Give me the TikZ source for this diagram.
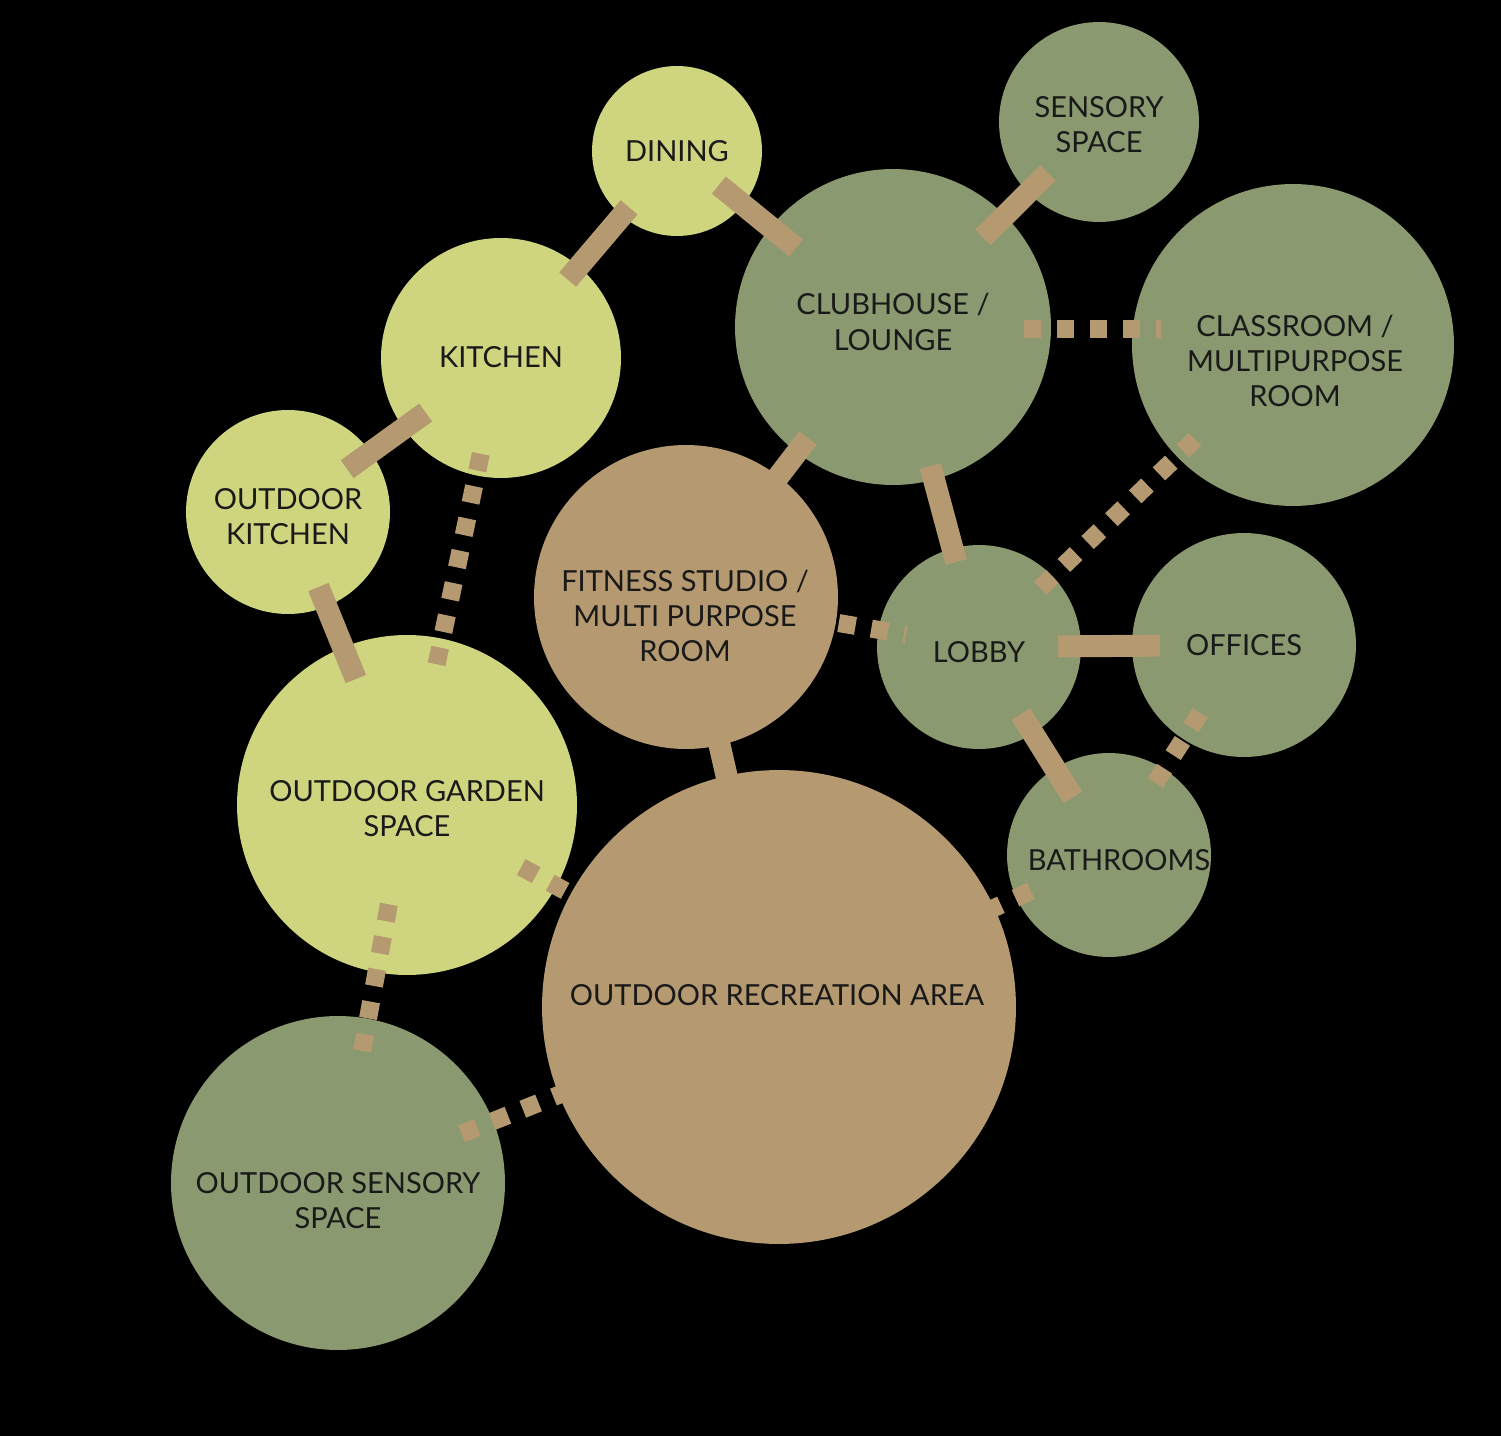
\documentclass[tikz,border=0pt]{standalone}
\usepackage{fontspec}
\setmainfont{Lato}
\usepackage{xcolor}
\usetikzlibrary{arrows}
\definecolor{lightgreen}{RGB}{207,212,127}
\definecolor{sage}{RGB}{138,153,111}
\definecolor{tan}{RGB}{181,153,112}
\tikzset{
  room/.style={circle,inner sep=0pt,draw=none},
  light/.style={room,fill=lightgreen},
  dark/.style={room,fill=sage},
  warm/.style={room,fill=tan},
  txt/.style={align=center,text=black!90,font=\fontsize{16.5}{20}\selectfont},
  bar/.style={draw=tan,line width=0.44cm},
  dots/.style={draw=tan,line width=0.36cm,dash pattern=on 0.34cm off 0.32cm}
}

\begin{document}
\begin{tikzpicture}[x=0.02cm,y=-0.02cm]
\fill[black] (0,0) rectangle (1501,1436);

\node[light, minimum size=3.4cm] (dining) at (677,151) {};
\node[dark, minimum size=4cm] (sensory) at (1099,122) {};
\node[dark, minimum size=6.32cm] (club) at (893,327) {};
\node[dark, minimum size=6.44cm] (classroom) at (1293,345) {};
\node[light, minimum size=4.8cm] (kitchen) at (501,358) {};
\node[light, minimum size=4.08cm] (okitchen) at (288,512) {};
\node[warm, minimum size=6.08cm] (fitness) at (686,597) {};
\node[dark, minimum size=4.08cm] (lobby) at (979,647) {};
\node[dark, minimum size=4.48cm] (offices) at (1244,645) {};
\node[dark, minimum size=4.08cm] (bath) at (1109,855) {};
\node[light, minimum size=6.8cm] (garden) at (407,805) {};
\node[warm, minimum size=9.48cm] (orec) at (779,1007) {};
\node[dark, minimum size=6.68cm] (osensory) at (338,1183) {};

\draw[bar, shorten <=1.08cm, shorten >=2.5cm] (dining.center) -- (club.center);
\draw[bar, shorten <=2.06cm, shorten >=1.48cm] (kitchen.center) -- (dining.center);
\draw[bar, shorten <=1.46cm, shorten >=1.86cm] (okitchen.center) -- (kitchen.center);
\draw[bar, shorten <=1.62cm, shorten >=2.72cm] (okitchen.center) -- (garden.center);
\draw[bar, shorten <=2.54cm, shorten >=1.44cm] (club.center) -- (sensory.center);
\draw[bar, shorten <=2.8cm, shorten >=2.02cm] (club.center) -- (fitness.center);
\draw[bar, shorten <=2.88cm, shorten >=1.76cm] (club.center) -- (lobby.center);
\draw[bar, shorten <=1.58cm, shorten >=1.68cm] (lobby.center) -- (offices.center);
\draw[bar, shorten <=1.58cm, shorten >=1.36cm] (lobby.center) -- (bath.center);
\draw[bar, shorten <=2.6cm, shorten >=3.86cm] (fitness.center) -- (orec.center);

\draw[dots, shorten <=-0.54cm, shorten >=-0.58cm] ([yshift=-0.04cm]club.east) -- ([yshift=-0.04cm]club.east -| classroom.west);
\draw[dots, shorten <=2.72cm, shorten >=1.62cm] (classroom.center) -- (lobby.center);
\draw[dots, shorten <=1.96cm, shorten >=2.76cm] (kitchen.center) -- (garden.center);
\draw[dots, shorten <=2.44cm, shorten >=1.48cm] (fitness.center) -- (lobby.center);
\draw[dots, shorten <=1.62cm, shorten >=1.6cm] (offices.center) -- (bath.center);
\draw[dots, shorten <=2.6cm, shorten >=4.06cm] (garden.center) -- (orec.center);
\draw[dots, shorten <=1.72cm, shorten >=3.74cm] (bath.center) -- (orec.center);
\draw[dots, shorten <=2.02cm, shorten >=2.52cm] (garden.center) -- (osensory.center);
\draw[dots, shorten <=2.66cm, shorten >=3.68cm] (osensory.center) -- (orec.center);

\node[txt] (diningtext) at (677,151) {DINING};
\node[txt] (sensorytext) at (1099,125) {SENSORY\\SPACE};
\node[txt] (clubtext) at (893,322) {CLUBHOUSE /\\LOUNGE};
\node[txt] (classroomtext) at (1295,361) {CLASSROOM /\\MULTIPURPOSE\\ROOM};
\node[txt] (kitchentext) at (501,357) {KITCHEN};
\node[txt] (okitchentext) at (288,517) {OUTDOOR\\KITCHEN};
\node[txt] (fitnesstext) at (685,616) {FITNESS STUDIO /\\MULTI PURPOSE\\ROOM};
\node[txt] (lobbytext) at (979,652) {LOBBY};
\node[txt] (officestext) at (1244,645) {OFFICES};
\node[txt] (bathtext) at (1119,860) {BATHROOMS};
\node[txt] (gardentext) at (407,809) {OUTDOOR GARDEN\\SPACE};
\node[txt] (orectext) at (777,995) {OUTDOOR RECREATION AREA};
\node[txt] (osensorytext) at (338,1201) {OUTDOOR SENSORY\\SPACE};
\end{tikzpicture}
\end{document}
